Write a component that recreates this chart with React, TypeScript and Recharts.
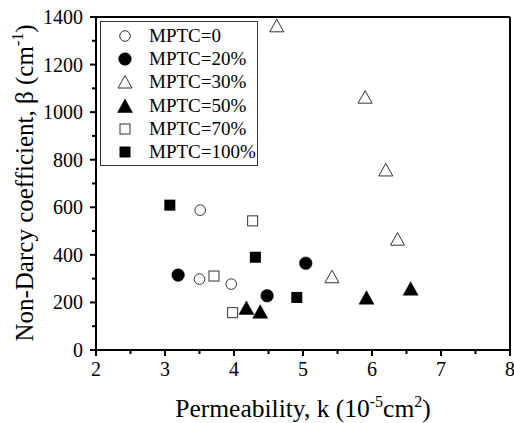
import React from 'react';
import { ScatterChart, Scatter, XAxis, YAxis, ReferenceLine, Legend } from 'recharts';

const mptc0 = [
  { k: 3.51, beta: 588 },
  { k: 3.5, beta: 298 },
  { k: 3.96, beta: 277 },
];
const mptc20 = [
  { k: 3.19, beta: 315 },
  { k: 4.48, beta: 228 },
  { k: 5.04, beta: 365 },
];
const mptc30 = [
  { k: 4.62, beta: 1363 },
  { k: 5.9, beta: 1063 },
  { k: 6.2, beta: 757 },
  { k: 6.37, beta: 466 },
  { k: 5.42, beta: 308 },
];
const mptc50 = [
  { k: 4.18, beta: 177 },
  { k: 4.38, beta: 161 },
  { k: 5.92, beta: 220 },
  { k: 6.56, beta: 258 },
];
const mptc70 = [
  { k: 4.27, beta: 543 },
  { k: 3.71, beta: 311 },
  { k: 3.98, beta: 157 },
];
const mptc100 = [
  { k: 3.07, beta: 609 },
  { k: 4.31, beta: 390 },
  { k: 4.91, beta: 221 },
];

const xTicks = [2, 2.5, 3, 3.5, 4, 4.5, 5, 5.5, 6, 6.5, 7, 7.5, 8];
const yTicks = [0, 100, 200, 300, 400, 500, 600, 700, 800, 900, 1000, 1100, 1200, 1300, 1400];

const FONT = 'Liberation Serif';

type MarkerKind = 'openCircle' | 'filledCircle' | 'openTri' | 'filledTri' | 'openSquare' | 'filledSquare';

const drawMarker = (kind: MarkerKind, cx: number, cy: number) => {
  switch (kind) {
    case 'openCircle':
      return <circle cx={cx} cy={cy} r={5.3} fill="#fff" stroke="#333" strokeWidth={1} />;
    case 'filledCircle':
      return <circle cx={cx} cy={cy} r={6.3} fill="#000" stroke="#000" strokeWidth={0.5} />;
    case 'openTri':
      return (
        <polygon
          points={`${cx},${cy - 6.5} ${cx - 7},${cy + 6} ${cx + 7},${cy + 6}`}
          fill="#fff"
          stroke="#333"
          strokeWidth={1}
        />
      );
    case 'filledTri':
      return (
        <polygon
          points={`${cx},${cy - 7} ${cx - 7.5},${cy + 6.5} ${cx + 7.5},${cy + 6.5}`}
          fill="#000"
          stroke="#000"
          strokeWidth={0.5}
        />
      );
    case 'openSquare':
      return <rect x={cx - 5} y={cy - 5} width={10} height={10} fill="#fff" stroke="#333" strokeWidth={1} />;
    case 'filledSquare':
      return <rect x={cx - 5.5} y={cy - 5.5} width={11} height={11} fill="#000" />;
  }
  return null;
};

const series: { name: string; data: { k: number; beta: number }[]; kind: MarkerKind }[] = [
  { name: 'MPTC=0', data: mptc0, kind: 'openCircle' },
  { name: 'MPTC=20%', data: mptc20, kind: 'filledCircle' },
  { name: 'MPTC=30%', data: mptc30, kind: 'openTri' },
  { name: 'MPTC=50%', data: mptc50, kind: 'filledTri' },
  { name: 'MPTC=70%', data: mptc70, kind: 'openSquare' },
  { name: 'MPTC=100%', data: mptc100, kind: 'filledSquare' },
];

const XTick = (props: any) => {
  const { x, y, payload } = props;
  const v = payload.value;
  const major = Number.isInteger(v);
  return (
    <g>
      <line x1={x} x2={x} y1={y} y2={y + (major ? 6 : 4)} stroke="#000" strokeWidth={2} />
      {major && (
        <text x={x} y={y + 26} textAnchor="middle" fontSize={20} fontFamily={FONT} fill="#000">
          {v}
        </text>
      )}
    </g>
  );
};

const YTick = (props: any) => {
  const { x, y, payload } = props;
  const v = payload.value;
  const major = v % 200 === 0;
  return (
    <g>
      <line x1={x - (major ? 6 : 4)} x2={x} y1={y} y2={y} stroke="#000" strokeWidth={2} />
      {major && (
        <text x={x - 13} y={y} dy="0.35em" textAnchor="end" fontSize={20} fontFamily={FONT} fill="#000">
          {v}
        </text>
      )}
    </g>
  );
};

const LegendBox = () => (
  <div
    style={{
      border: '1px solid #333',
      background: '#fff',
      width: 158,
      boxSizing: 'border-box',
      paddingTop: 2,
      paddingBottom: 1,
      fontFamily: FONT,
      fontSize: 19,
      color: '#000',
    }}
  >
    {series.map((s) => (
      <div key={s.name} style={{ display: 'flex', alignItems: 'center', height: 23.3 }}>
        <svg width={48} height={20} style={{ display: 'block' }}>
          {drawMarker(s.kind, 24, 10)}
        </svg>
        <span style={{ lineHeight: '20px', whiteSpace: 'nowrap', fontFamily: FONT }}>{s.name}</span>
      </div>
    ))}
  </div>
);

export default function App() {
  return (
    <div style={{ position: 'absolute', left: 0, top: 0, width: 514, height: 423, background: '#fff', fontFamily: FONT }}>
      <ScatterChart width={514} height={423} margin={{ top: 17, right: 4, bottom: 0, left: 0 }} style={{ fontFamily: FONT }}>
        <XAxis
          type="number"
          dataKey="k"
          domain={[2, 8]}
          ticks={xTicks}
          interval={0}
          height={73}
          tickSize={0}
          tickMargin={0}
          tickLine={false}
          axisLine={{ stroke: '#000', strokeWidth: 2 }}
          tick={<XTick />}
          allowDataOverflow
          label={{
            content: () => (
              <text x={303} y={417} textAnchor="middle" fontSize={25.5} fontFamily={FONT} fill="#000">
                Permeability, k (10
                <tspan dy={-10} fontSize={16}>-5</tspan>
                <tspan dy={10}>cm</tspan>
                <tspan dy={-10} fontSize={16}>2</tspan>
                <tspan dy={10}>)</tspan>
              </text>
            ),
          }}
        />
        <YAxis
          type="number"
          dataKey="beta"
          domain={[0, 1400]}
          ticks={yTicks}
          interval={0}
          width={96}
          tickSize={0}
          tickMargin={0}
          tickLine={false}
          axisLine={{ stroke: '#000', strokeWidth: 2 }}
          tick={<YTick />}
          allowDataOverflow
          label={{
            content: () => (
              <text
                x={33}
                y={183}
                transform="rotate(-90, 33, 183)"
                textAnchor="middle"
                fontSize={25}
                fontFamily={FONT}
                fill="#000"
              >
                Non-Darcy coefficient, β (cm
                <tspan dy={-10} fontSize={16}>-1</tspan>
                <tspan dy={10}>)</tspan>
              </text>
            ),
          }}
        />
        <ReferenceLine y={1400} stroke="#000" strokeWidth={2} />
        <ReferenceLine x={8} stroke="#000" strokeWidth={2} />
        {series.map((s) => (
          <Scatter
            key={s.name}
            name={s.name}
            data={s.data}
            isAnimationActive={false}
            shape={(p: any) => drawMarker(s.kind, p.cx, p.cy)}
          />
        ))}
        <Legend
          layout="vertical"
          align="center"
          verticalAlign="middle"
          wrapperStyle={{ left: 100, top: 21, width: 158 }}
          content={() => <LegendBox />}
        />
      </ScatterChart>
    </div>
  );
}
